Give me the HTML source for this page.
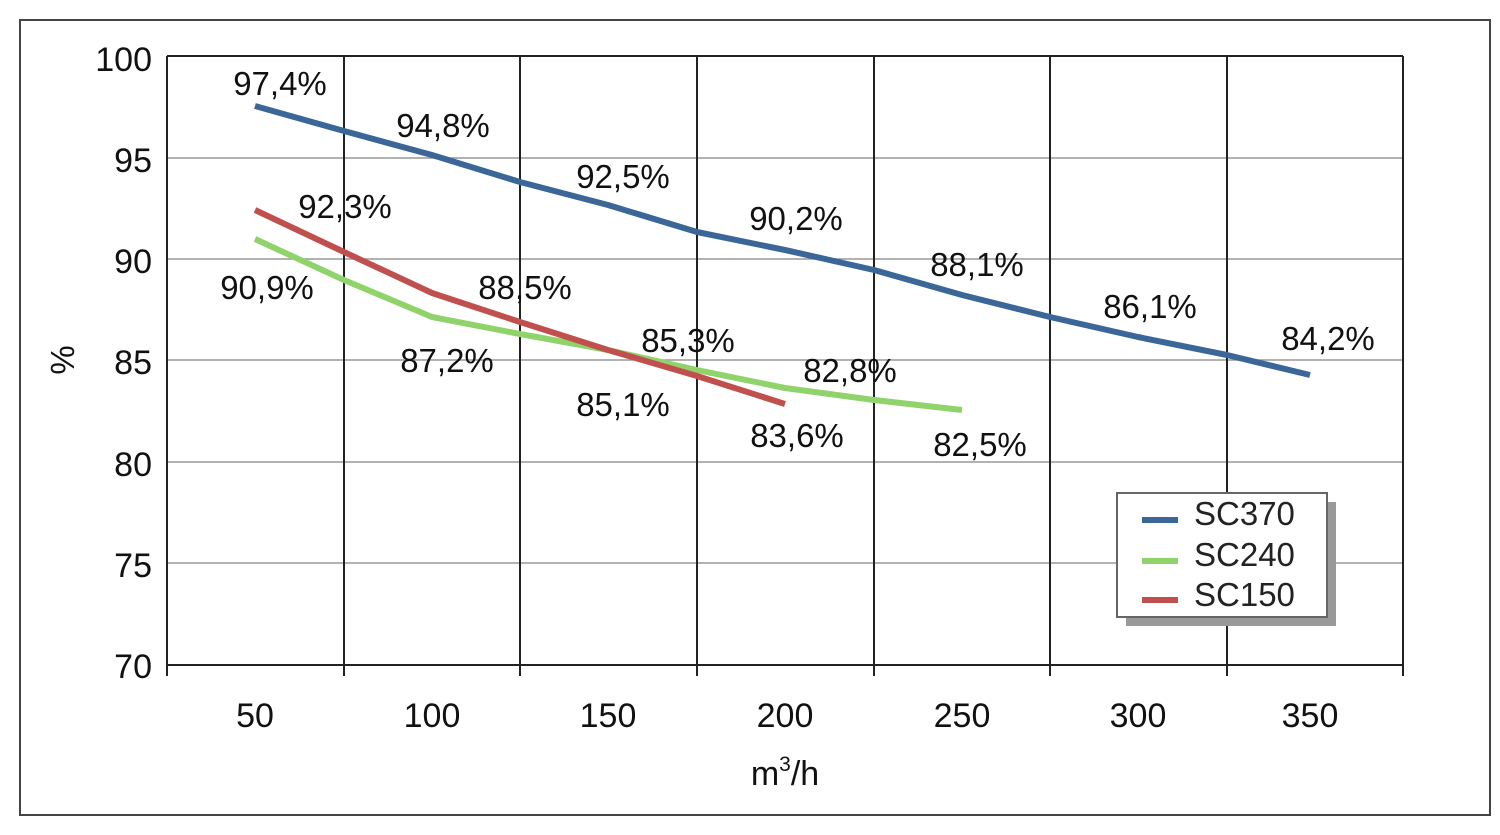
<!DOCTYPE html>
<html><head><meta charset="utf-8"><style>
html,body{margin:0;padding:0;background:#fff;}
svg{display:block;font-family:"Liberation Sans",Arial,sans-serif;}
</style></head><body>
<svg width="1500" height="835" viewBox="0 0 1500 835">
<rect x="20" y="20" width="1470" height="795" fill="#fff" stroke="#444" stroke-width="2"/>
<g stroke="#999" stroke-width="1.5">
<line x1="167" y1="158" x2="1403" y2="158"/>
<line x1="167" y1="259" x2="1403" y2="259"/>
<line x1="167" y1="360" x2="1403" y2="360"/>
<line x1="167" y1="462" x2="1403" y2="462"/>
<line x1="167" y1="563" x2="1403" y2="563"/>
</g>
<g stroke="#222" stroke-width="2">
<line x1="167" y1="56" x2="1403" y2="56"/>
<line x1="344" y1="56" x2="344" y2="676"/>
<line x1="520" y1="56" x2="520" y2="676"/>
<line x1="697" y1="56" x2="697" y2="676"/>
<line x1="874" y1="56" x2="874" y2="676"/>
<line x1="1050" y1="56" x2="1050" y2="676"/>
<line x1="1227" y1="56" x2="1227" y2="676"/>
<line x1="1403" y1="56" x2="1403" y2="676"/>
<line x1="167" y1="56" x2="167" y2="676"/>
<line x1="167" y1="665" x2="1403" y2="665"/>
</g>
<g font-size="34" fill="#111" text-anchor="end">
<text x="152" y="71">100</text><text x="152" y="172">95</text><text x="152" y="273">90</text>
<text x="152" y="374">85</text><text x="152" y="476">80</text><text x="152" y="577">75</text><text x="152" y="678">70</text>
</g>
<text transform="translate(74,360) rotate(-90)" font-size="33" text-anchor="middle" fill="#111">%</text>
<g font-size="34" fill="#111" text-anchor="middle">
<text x="255" y="727">50</text><text x="432" y="727">100</text><text x="608" y="727">150</text>
<text x="785" y="727">200</text><text x="962" y="727">250</text><text x="1138" y="727">300</text><text x="1310" y="727">350</text>
<text x="785" y="785">m<tspan font-size="21" dy="-14">3</tspan><tspan dy="14">/h</tspan></text>
</g>
<g fill="none" stroke-width="6" stroke-linejoin="round">
<polyline stroke="#3b6698" points="255,106 344,131 432,155 520,182 608,205 697,232 785,250 874,270 962,295 1050,317 1138,337 1227,355 1310,375"/>
<polyline stroke="#90d36b" points="255,239 344,280 432,317 520,334 608,350 697,370 785,388 874,400 962,410"/>
<polyline stroke="#c0504d" points="255,210 344,252 432,293 520,322 608,350 697,376 785,404"/>
</g>
<g font-size="33" fill="#111" text-anchor="middle">
<text x="280" y="95">97,4%</text><text x="443" y="137">94,8%</text><text x="623" y="188">92,5%</text>
<text x="796" y="230">90,2%</text><text x="977" y="276">88,1%</text><text x="1150" y="318">86,1%</text><text x="1328" y="350">84,2%</text>
<text x="345" y="218">92,3%</text><text x="267" y="299">90,9%</text><text x="525" y="299">88,5%</text>
<text x="447" y="372">87,2%</text><text x="688" y="352">85,3%</text><text x="623" y="416">85,1%</text>
<text x="850" y="382">82,8%</text><text x="797" y="447">83,6%</text><text x="980" y="456">82,5%</text>
</g>
<rect x="1126" y="502" width="210" height="124" fill="#999"/>
<rect x="1117" y="493" width="210" height="124" fill="#fff" stroke="#666" stroke-width="2"/>
<g stroke-width="6">
<line x1="1142" y1="520" x2="1178" y2="520" stroke="#3b6698"/>
<line x1="1142" y1="561" x2="1178" y2="561" stroke="#90d36b"/>
<line x1="1142" y1="600" x2="1178" y2="600" stroke="#c0504d"/>
</g>
<g font-size="33" fill="#222">
<text x="1194" y="525">SC370</text><text x="1194" y="566">SC240</text><text x="1194" y="606">SC150</text>
</g>
</svg>
</body></html>
